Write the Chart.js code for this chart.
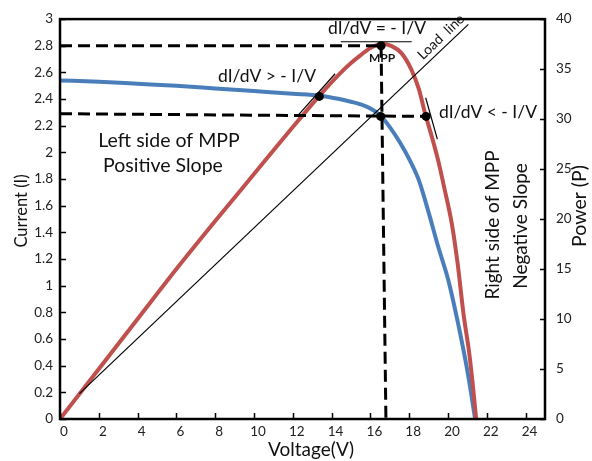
<!DOCTYPE html>
<html>
<head>
<meta charset="utf-8">
<script src="https://cdn.jsdelivr.net/npm/chart.js@4.4.1/dist/chart.umd.min.js"></script>
<style>
  body { margin: 0; background: #fff; }
  #wrap { width: 592px; height: 461px; }
</style>
</head>
<body>
<div id="wrap"><canvas id="pvChart"></canvas></div>
<script>
// ---- I-V curve (blue, left axis) ----
var ivVoltage = [0, 2, 4, 6, 8, 10, 12, 13.4, 14.4, 15, 15.5, 16, 16.5, 17, 17.5, 18, 18.5, 19, 19.5, 20, 20.5, 21, 21.4];
var ivCurrent = [2.54, 2.53, 2.515, 2.5, 2.48, 2.46, 2.44, 2.425, 2.4, 2.38, 2.36, 2.33, 2.28, 2.19, 2.08, 1.95, 1.79, 1.55, 1.29, 1.05, 0.73, 0.36, 0];

// ---- P-V curve (red, right axis) ----
var pvVoltage = [0, 2, 4, 6, 8, 10, 12, 13.4, 14.4, 15, 15.5, 16, 16.6, 17.1, 17.6, 18.1, 18.5, 18.8, 19.2, 19.5, 19.8, 20.2, 20.5, 20.8, 21.1, 21.3, 21.45];
var pvPower = [0, 5, 10, 15, 19.8, 24.5, 29.2, 32.4, 34.5, 35.6, 36.4, 37.1, 37.5, 37.3, 36.6, 35, 33, 30.7, 28, 25.8, 23.2, 19.5, 15.5, 10.5, 6.5, 3, 0];

// ---- load line ----
var loadVoltage = [1.0, 21.05];
var loadCurrent = [0.19, 2.96];

// ---- dashed guide lines (MPP) ----
var peakLineV = [0, 16.55];
var peakLineI = [2.8, 2.8];
var mppLineV = [0, 18.87];
var mppLineI = [2.29, 2.27];
var vmpLineV = [16.55, 16.8];
var vmpLineI = [2.8, 0];

// ---- slope markers ----
var leftTangentV = [12.28, 14.18];
var leftTangentI = [2.28, 2.59];
var rightTangentV = [18.85, 19.45];
var rightTangentI = [2.41, 2.10];
var mppTangentV = [14.47, 18.13];
var mppTangentI = [2.83, 2.83];

// ---- marked points ----
var dotVoltage = [16.55, 16.53, 13.37, 18.87];
var dotCurrent = [2.8, 2.27, 2.42, 2.27];

// axes
var xMin = 0, xMax = 25;
var xTickValues = [0, 2, 4, 6, 8, 10, 12, 14, 16, 18, 20, 22, 24];
var iMin = 0, iMax = 3, iStep = 0.2;
var pMin = 0, pMax = 40, pStep = 5;

var FONT = 'Lato, "Open Sans", sans-serif';

function pts(xs, ys) {
    return xs.map(function(x, i) { return {x: x, y: ys[i]}; });
}

function seg(xs, ys, width, dash) {
    return {
        data: pts(xs, ys),
        showLine: true,
        borderColor: '#000',
        borderWidth: width,
        borderDash: dash || [],
        pointRadius: 0,
        yAxisID: 'y'
    };
}

var datasets = [
    {
        data: pts(dotVoltage, dotCurrent),
        showLine: false,
        pointRadius: 4.5,
        pointBackgroundColor: '#000',
        pointBorderWidth: 0,
        yAxisID: 'y'
    },
    seg(peakLineV, peakLineI, 3, [12, 6]),
    seg(mppLineV, mppLineI, 3, [12, 6]),
    seg(vmpLineV, vmpLineI, 3, [12, 6]),
    seg(leftTangentV, leftTangentI, 1.2),
    seg(rightTangentV, rightTangentI, 1.2),
    seg(mppTangentV, mppTangentI, 1.2),
    seg(loadVoltage, loadCurrent, 1.2),
    {
        data: pts(pvVoltage, pvPower),
        showLine: true,
        borderColor: '#C0504D',
        borderWidth: 4,
        pointRadius: 0,
        cubicInterpolationMode: 'monotone',
        yAxisID: 'y1'
    },
    {
        data: pts(ivVoltage, ivCurrent),
        showLine: true,
        borderColor: '#4A7EBB',
        borderWidth: 4,
        pointRadius: 0,
        cubicInterpolationMode: 'monotone',
        yAxisID: 'y'
    }
];

// inside tick marks, frame, axis titles and annotations
var decorations = {
    id: 'decorations',
    afterDraw: function(chart) {
        var ctx = chart.ctx, a = chart.chartArea;
        var sx = chart.scales.x, sy = chart.scales.y, sp = chart.scales.y1;
        ctx.save();
        ctx.strokeStyle = '#000';
        ctx.lineWidth = 1.5;
        ctx.beginPath();
        sx.ticks.forEach(function(t) {
            var p = Math.round(sx.getPixelForValue(t.value)) + 0.5;
            ctx.moveTo(p, a.bottom); ctx.lineTo(p, a.bottom - 6);
        });
        sy.ticks.forEach(function(t) {
            var p = Math.round(sy.getPixelForValue(t.value)) + 0.5;
            ctx.moveTo(a.left, p); ctx.lineTo(a.left + 6, p);
        });
        sp.ticks.forEach(function(t) {
            var p = Math.round(sp.getPixelForValue(t.value)) + 0.5;
            ctx.moveTo(a.right, p); ctx.lineTo(a.right - 5, p);
        });
        ctx.stroke();
        ctx.lineWidth = 2.5;
        ctx.strokeRect(a.left, a.top, a.right - a.left, a.bottom - a.top);

        ctx.fillStyle = '#111';
        ctx.textAlign = 'center';
        ctx.textBaseline = 'middle';

        function text(str, x, y, size, rot, weight) {
            ctx.save();
            ctx.translate(x, y);
            if (rot) ctx.rotate(rot);
            ctx.font = (weight || 'normal') + ' ' + size + 'px ' + FONT;
            ctx.fillText(str, 0, 0);
            ctx.restore();
        }

        // axis titles
        text('Current (I)', 22, 211, 16.5, -Math.PI / 2);
        text('Power (P)', 580, 206, 19.5, -Math.PI / 2);
        text('Voltage(V)', 311, 450, 19);

        // annotations
        text('dI/dV = - I/V', 377, 28, 17.5);
        text('MPP', 382, 58, 12, 0, 'bold');
        text('Load  line', 441, 37, 14, -Math.PI / 4 + 0.02);
        text('dI/dV > - I/V', 267, 76, 17.5);
        text('dI/dV < - I/V', 488, 112, 17.5);
        text('Left side of MPP', 169, 141, 19.5);
        text('Positive Slope', 163, 166, 19.5);
        text('Right side of MPP', 493, 225, 19, -Math.PI / 2);
        text('Negative Slope', 521, 226, 19, -Math.PI / 2);
        ctx.restore();
    }
};

var tickFont = { family: FONT, size: 13.5 };

function fmt(v) { return String(Number(v.toFixed(1))); }

new Chart(document.getElementById('pvChart'), {
    type: 'scatter',
    data: { datasets: datasets },
    options: {
        responsive: true,
        maintainAspectRatio: false,
        animation: false,
        layout: { padding: { top: 16, left: 0, right: 0, bottom: 0 } },
        plugins: { legend: { display: false }, tooltip: { enabled: false } },
        scales: {
            x: {
                type: 'linear', min: xMin, max: xMax,
                grid: { display: false, drawTicks: false },
                border: { display: false },
                ticks: { padding: 5, labelOffset: 4, color: '#222', font: tickFont, callback: fmt },
                afterBuildTicks: function(s) { s.ticks = xTickValues.map(function(v) { return {value: v}; }); },
                afterFit: function(s) { s.height = 42; }
            },
            y: {
                type: 'linear', position: 'left', min: iMin, max: iMax,
                grid: { display: false, drawTicks: false },
                border: { display: false },
                ticks: { stepSize: iStep, padding: 7, color: '#222', font: tickFont, callback: fmt },
                afterFit: function(s) { s.width = 60; }
            },
            y1: {
                type: 'linear', position: 'right', min: pMin, max: pMax,
                grid: { display: false, drawTicks: false },
                border: { display: false },
                ticks: { stepSize: pStep, padding: 11, color: '#222', font: tickFont, callback: fmt },
                afterFit: function(s) { s.width = 47; }
            }
        }
    },
    plugins: [decorations]
});
</script>
</body>
</html>
